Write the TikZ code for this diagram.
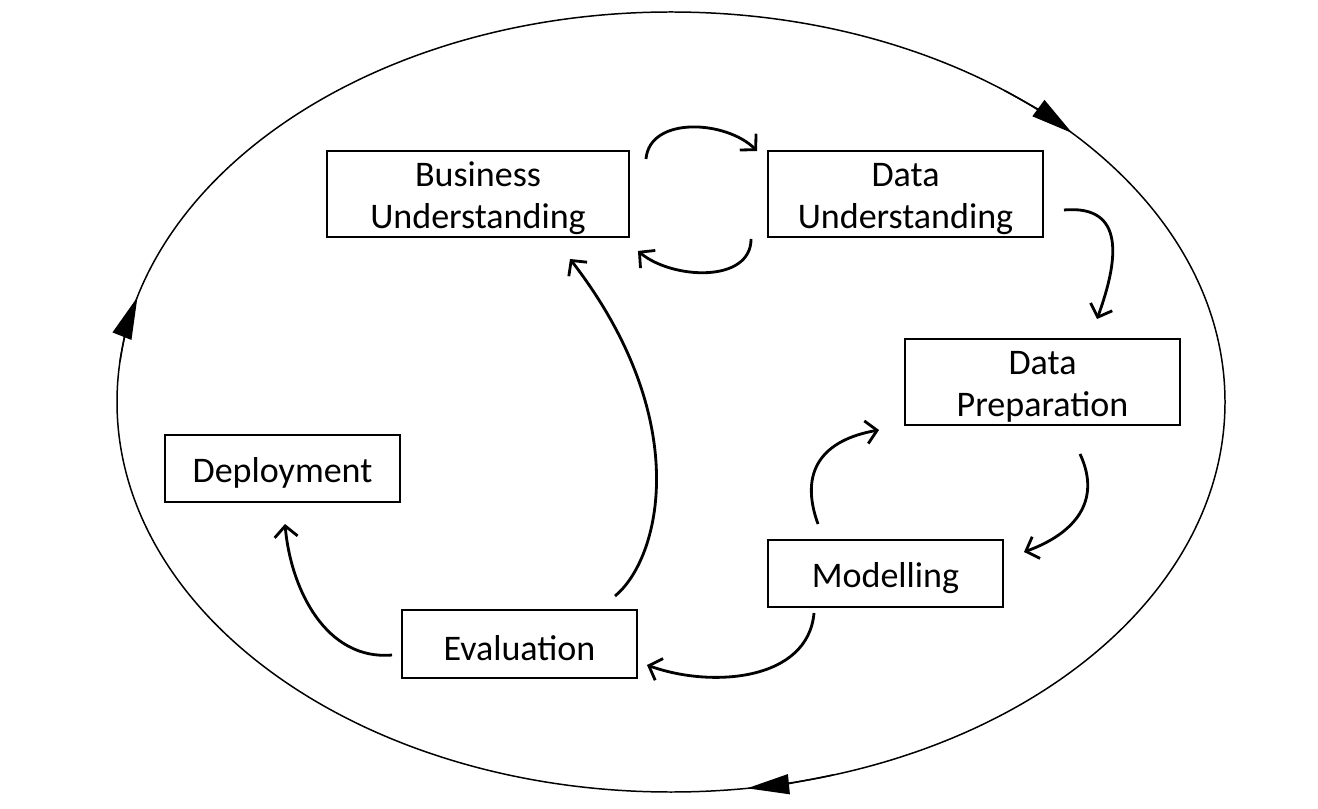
\documentclass[tikz,border=0pt]{standalone}
\usepackage{fontspec}
\setmainfont{Carlito}
\usetikzlibrary{arrows.meta}
\newcommand{\toppad}{\rule{0pt}{19pt}}

\begin{document}
\begin{tikzpicture}[
    stage/.style={draw,line width=1.1pt,align=center,inner sep=0pt,
      font=\fontsize{20.5}{24}\selectfont},
    flow/.style={line width=1.6pt,-{Straight Barb[length=2.2mm,width=4.6mm]}},
    cycle/.style={line width=0.85pt},
    cyclehead/.style={cycle,-{Triangle[length=8.4mm,width=4mm]}}]
	\useasboundingbox (0,0) rectangle (26.36,16.16);
	\draw[cycle] (13.42,8.12) ellipse [x radius=11.08,y radius=7.80];
	\draw[cyclehead] (13.42,8.12) ++(53:11.08 and 7.80) arc[start angle=53,end angle=43.6,x radius=11.08,y radius=7.80];
	\draw[cyclehead] (13.42,8.12) ++(174:11.08 and 7.80) arc[start angle=174,end angle=164.4,x radius=11.08,y radius=7.80];
	\draw[cyclehead] (13.42,8.12) ++(287:11.08 and 7.80) arc[start angle=287,end angle=277.9,x radius=11.08,y radius=7.80];

	\node[stage,minimum width=6.04cm,minimum height=1.72cm] (bu) at (9.56,12.28) {\toppad Business\\Understanding};
	\node[stage,minimum width=5.50cm,minimum height=1.72cm] (du) at (18.11,12.28) {\toppad Data\\Understanding};
	\node[stage,minimum width=5.50cm,minimum height=1.72cm] (dp) at (20.85,8.52) {\toppad Data\\Preparation};
	\node[stage,minimum width=4.70cm,minimum height=1.34cm] (dep) at (5.65,6.79) {\toppad Deployment};
	\node[stage,minimum width=4.70cm,minimum height=1.34cm] (mod) at (17.71,4.69) {\toppad Modelling};
	\node[stage,minimum width=4.70cm,minimum height=1.36cm] (eval) at (10.39,3.28) {\toppad Evaluation};

	\draw[flow] ([shift={(0.32,-0.18)}]bu.north east) to[out=85,in=135] ([shift={(-0.20,-0.02)}]du.north west);
	\draw[flow] ([shift={(-0.32,-0.02)}]du.south west) to[out=-90,in=-40] ([shift={(0.16,-0.26)}]bu.south east);
	\draw[flow] ([shift={(0.40,-0.32)}]du.east) to[out=5,in=70,looseness=1.4] ([shift={(1.09,0.38)}]dp.north);
	\draw[flow] ([shift={(0.75,-0.56)}]dp.south) to[out=-65,in=20,looseness=1.2] ([shift={(0.40,0.43)}]mod.east);
	\draw[flow] ([shift={(-1.35,0.30)}]mod.north) to[out=110,in=190,looseness=1.3] ([shift={(-0.50,-0.96)}]dp.west);
	\draw[flow] ([shift={(-1.43,-0.10)}]mod.south) to[out=-95,in=-20] ([shift={(0.18,-0.42)}]eval.east);
	\draw[flow] ([shift={(1.91,0.26)}]eval.north) .. controls +(0.90,0.74) and +(2.50,-3.24) .. ([shift={(1.84,-0.42)}]bu.south);
	\draw[flow] ([shift={(-0.18,-0.22)}]eval.west) to[out=185,in=-85] ([shift={(0.05,-0.42)}]dep.south);
\end{tikzpicture}
\end{document}
